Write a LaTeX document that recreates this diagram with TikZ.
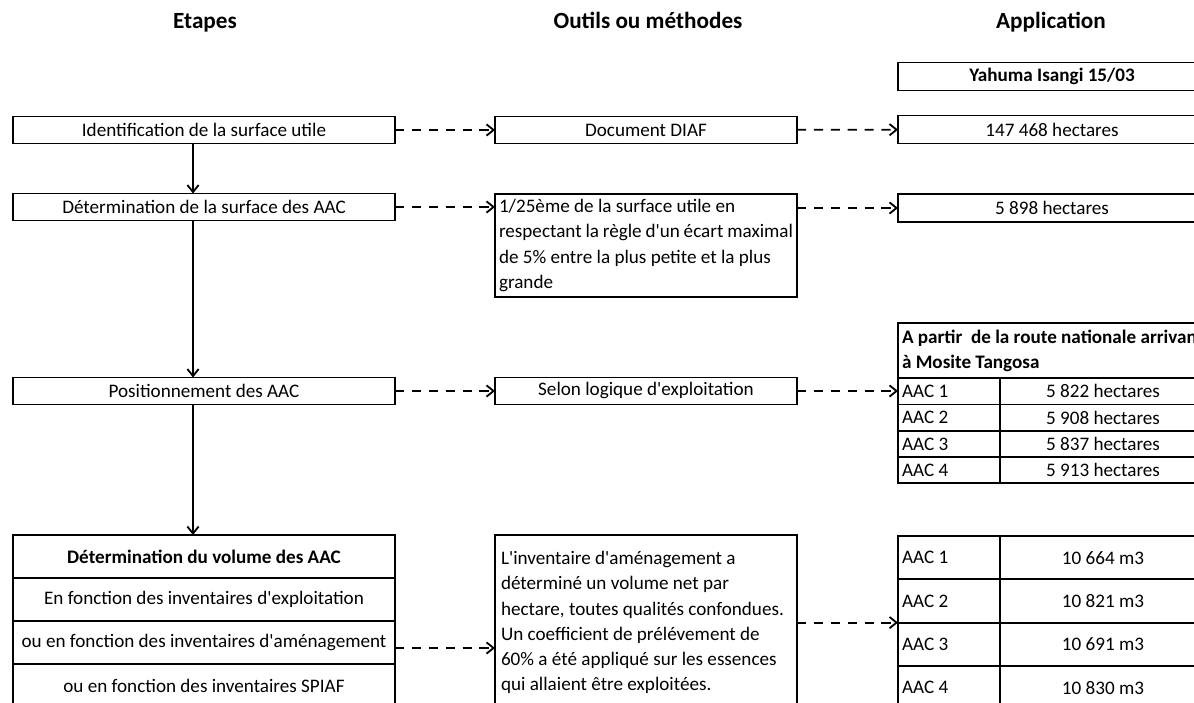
\documentclass[tikz,border=0pt]{standalone}
\usepackage{fontspec}
\setmainfont{Carlito}
\usetikzlibrary{arrows.meta}
\newcommand{\pxl}{0.025cm}
\newcommand{\ap}{\textquotesingle}
\tikzset{
  >={Straight Barb[length=5pt,width=8pt]},
  x=0.025cm, y=-0.025cm,
}
\tikzstyle{box}=[draw,line width=1.3pt,inner sep=0pt,outer sep=0pt,font=\fontsize{13.6}{17.9}\selectfont]
\tikzstyle{etape}=[box,minimum width=382*\pxl,minimum height=27*\pxl]
\tikzstyle{outil}=[box,minimum width=302*\pxl,minimum height=27*\pxl]
\tikzstyle{appli}=[box,minimum width=308*\pxl,minimum height=28*\pxl]
\tikzstyle{texte}=[box,anchor=north west,minimum width=302*\pxl,align=flush left]
\tikzstyle{cellg}=[box,anchor=north west,minimum width=102*\pxl,text width=94*\pxl,inner xsep=4*\pxl,align=flush left]
\tikzstyle{celld}=[box,anchor=north west,minimum width=206*\pxl]
\tikzstyle{titre}=[anchor=base,font=\fontsize{16.5}{20}\selectfont\bfseries]
\tikzstyle{flow}=[line width=1.3pt,->]
\tikzstyle{link}=[line width=1.3pt,->,dash pattern=on 6.5pt off 5.5pt]

\begin{document}
\begin{tikzpicture}
    \useasboundingbox (0,0) rectangle (1194,702);
    \clip (0,0) rectangle (1194,702);
    \node[titre] (etapes) at (205,29) {Etapes};
    \node[titre] (outils) at (648,29) {Outils ou méthodes};
    \node[titre] (appli) at (1051,29) {Application};

    \node[etape] (ident) at (204,130) {Identification de la surface utile};
    \node[etape] (determ) at (204,207) {Détermination de la surface des AAC};
    \node[etape] (position) at (204,391) {Positionnement des AAC};
    \node[etape,minimum height=43*\pxl,font=\fontsize{13.6}{17.9}\selectfont\bfseries] (vol0) at (204,556.5) {Détermination du volume des AAC};
    \node[etape,minimum height=43*\pxl] (vol1) at (204,599.5) {En fonction des inventaires d\ap exploitation};
    \node[etape,minimum height=43*\pxl] (vol2) at (204,642.5) {ou en fonction des inventaires d\ap aménagement};
    \node[etape,minimum height=43*\pxl] (vol3) at (204,685.5) {ou en fonction des inventaires SPIAF};

    \node[outil] (diaf) at (646,130) {Document DIAF};
    \node[texte,minimum height=103*\pxl,text width=294*\pxl,inner xsep=4*\pxl] (regle) at (495,194)
      {1/25ème de la surface utile en\\respectant la règle d\ap un écart maximal\\de 5\% entre la plus petite et la plus\\grande};
    \node[outil] (selon) at (646,391) {Selon logique d\ap exploitation};
    \node[texte,minimum height=175*\pxl,text width=290*\pxl,inner xsep=6*\pxl] (inventaire) at (495,535)
      {L\ap inventaire d\ap aménagement a\\déterminé un volume net par\\hectare, toutes qualités confondues.\\Un coefficient de prélévement de\\60\% a été appliqué sur les essences\\qui allaient être exploitées.};

    \node[appli,font=\fontsize{13.6}{17.9}\selectfont\bfseries] (yahuma) at (1052,76.5) {Yahuma Isangi 15/03};
    \node[appli] (hect1) at (1052,129.5) {147 468 hectares};
    \node[appli] (hect2) at (1052,208) {5 898 hectares};

    \node[box,anchor=north west,minimum width=308*\pxl,minimum height=55*\pxl,text width=300*\pxl,inner xsep=4*\pxl,align=flush left,font=\fontsize{13.6}{17.9}\selectfont\bfseries] (tete) at (898,323.3)
      {\mbox{A partir\ \ de la route nationale arrivant}\\à Mosite Tangosa};
    \foreach \v [count=\i] in {5 822,5 908,5 837,5 913} {
      \node[cellg,minimum height=26.25*\pxl] (s\i) at (898,{378.3+26.25*(\i-1)}) {AAC \i};
      \node[celld,minimum height=26.25*\pxl] (h\i) at (1000,{378.3+26.25*(\i-1)}) {\v\ hectares};
    }
    \foreach \v [count=\i] in {10 664,10 821,10 691,10 830} {
      \node[cellg,minimum height=43.3*\pxl] (m\i) at (898,{536+43.3*(\i-1)}) {AAC \i};
      \node[celld,minimum height=43.3*\pxl] (v\i) at (1000,{536+43.3*(\i-1)}) {\v\ m3};
    }

    \draw[flow] ([xshift=-11*\pxl]ident.south) -- ([xshift=-11*\pxl]determ.north);
    \draw[flow] ([xshift=-11*\pxl]determ.south) -- ([xshift=-11*\pxl]position.north);
    \draw[flow] ([xshift=-11*\pxl]position.south) -- ([xshift=-11*\pxl]vol0.north);

    \draw[link] (ident) -- (diaf);
    \draw[link] (diaf) -- (hect1);
    \draw[link] (determ.east) -- (determ.east -| regle.west);
    \draw[link] (regle.east |- hect2.west) -- (hect2.west);
    \draw[link] (position) -- (selon);
    \draw[link] (selon.east) -- (selon.east -| s1.west);
    \draw[link] ([yshift=-5.5*\pxl]vol2.east) -- ([yshift=-5.5*\pxl]vol2.east -| inventaire.west);
    \draw[link] (m2.south west -| inventaire.east) -- (m2.south west);
\end{tikzpicture}
\end{document}
